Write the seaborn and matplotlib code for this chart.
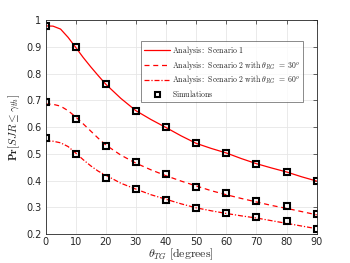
import matplotlib
matplotlib.use('Agg')
import matplotlib.pyplot as plt
import seaborn as sns
import pandas as pd

# analysis curves
theta_an = [0, 2.5, 5, 7.5, 10, 12.5, 15, 17.5, 20, 25, 30, 35, 40, 45,
            50, 55, 60, 65, 70, 75, 80, 85, 90]
an_s1 = [0.978, 0.977, 0.966, 0.935, 0.898, 0.860, 0.825, 0.792, 0.760, 0.707,
         0.661, 0.628, 0.598, 0.567, 0.539, 0.520, 0.503, 0.482, 0.463, 0.447,
         0.432, 0.414, 0.398]
an_s2_30 = [0.686, 0.685, 0.678, 0.661, 0.638, 0.612, 0.585, 0.558, 0.533, 0.495,
            0.465, 0.440, 0.418, 0.398, 0.380, 0.362, 0.347, 0.333, 0.320, 0.307,
            0.296, 0.284, 0.272]
an_s2_60 = [0.548, 0.547, 0.541, 0.527, 0.503, 0.478, 0.455, 0.435, 0.420, 0.390,
            0.368, 0.347, 0.330, 0.313, 0.298, 0.287, 0.277, 0.268, 0.260, 0.250,
            0.240, 0.230, 0.220]

# simulation points
theta_sim = [0, 10, 20, 30, 40, 50, 60, 70, 80, 90]
sim_s1 = [0.979, 0.898, 0.760, 0.661, 0.600, 0.539, 0.504, 0.463, 0.432, 0.398]
sim_s2_30 = [0.693, 0.629, 0.529, 0.468, 0.423, 0.375, 0.352, 0.325, 0.305, 0.274]
sim_s2_60 = [0.559, 0.500, 0.408, 0.369, 0.328, 0.298, 0.279, 0.264, 0.249, 0.218]

sns.set_style('white')
plt.rcParams['mathtext.fontset'] = 'cm'
plt.rcParams['font.family'] = ['DejaVu Sans']

fig = plt.figure(figsize=(3.5, 2.63), dpi=100)
ax = fig.add_axes([0.13, 0.110, 0.775, 0.814])

an = pd.DataFrame({'theta': theta_an, 's1': an_s1, 's30': an_s2_30, 's60': an_s2_60})
sim = pd.DataFrame({'theta': theta_sim, 's1': sim_s1, 's30': sim_s2_30, 's60': sim_s2_60})

red = '#ff0000'
sns.lineplot(data=an, x='theta', y='s1', ax=ax, color=red, lw=0.9,
             label=r'$\mathrm{Analysis{:}\ Scenario\ 1}$')
sns.lineplot(data=an, x='theta', y='s30', ax=ax, color=red, lw=0.9,
             linestyle=(0, (4, 3)),
             label=r'$\mathrm{Analysis{:}\ Scenario\ 2\ with\ }\theta_{RG}\ =\ 30^o$')
sns.lineplot(data=an, x='theta', y='s60', ax=ax, color=red, lw=0.9,
             linestyle=(0, (4, 1.5, 1, 1.5)),
             label=r'$\mathrm{Analysis{:}\ Scenario\ 2\ with\ }\theta_{RG}\ =\ 60^o$')

mk = dict(linestyle='', marker='s', markersize=4.5, markerfacecolor='none',
          markeredgecolor='black', markeredgewidth=1.5, color='black')
for col, lab in [('s1', r'$\mathrm{Simulations}$'), ('s30', '_nolegend_'), ('s60', '_nolegend_')]:
    sns.lineplot(data=sim, x='theta', y=col, ax=ax, label=lab, **mk)

ax.set_xlim(0, 90)
ax.set_ylim(0.2, 1)
ax.set_xticks(range(0, 91, 10))
ax.set_yticks([0.2, 0.3, 0.4, 0.5, 0.6, 0.7, 0.8, 0.9, 1.0])
ax.set_yticklabels(['0.2', '0.3', '0.4', '0.5', '0.6', '0.7', '0.8', '0.9', '1'])
ax.grid(True, color='#e6e6e6', lw=0.6)
ax.tick_params(direction='in', length=3, width=0.5, labelsize=7, colors='#262626',
               top=True, right=True, pad=3)
ax.tick_params(axis='x', pad=2)
for s in ax.spines.values():
    s.set_color('#262626')
    s.set_linewidth(0.6)

ax.set_xlabel(r'$\theta_{TG}\ \mathrm{[degrees]}$', fontsize=8.5, labelpad=-0.5)
ax.set_ylabel(r'$\mathbf{Pr}[SJR \leq \gamma_{th}]$', fontsize=8, labelpad=3)

leg = ax.legend(loc='upper right', bbox_to_anchor=(0.95, 0.90), fontsize=5.6,
                frameon=True, fancybox=False, edgecolor='#555555',
                handlelength=3.3, borderpad=0.35, labelspacing=0.2, handletextpad=0.3,
                borderaxespad=0.0, markerscale=0.8)
leg.get_frame().set_linewidth(0.6)

fig.savefig('out.png', dpi=100)
